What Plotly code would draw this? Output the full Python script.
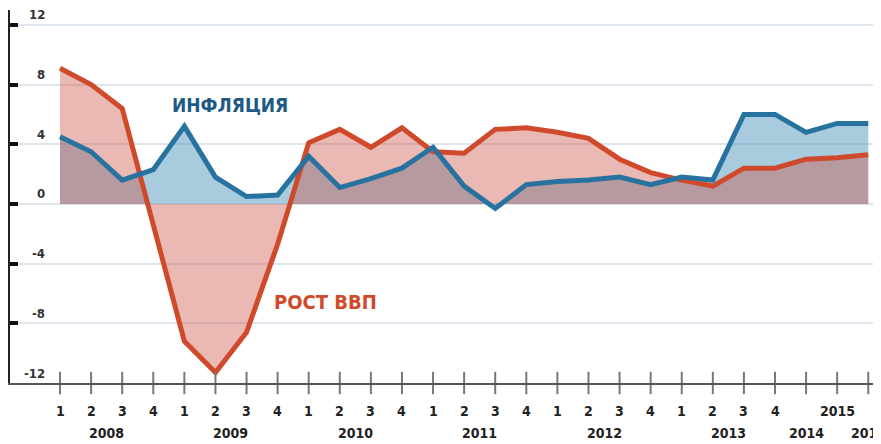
import plotly.graph_objects as go

# ---- data ----
x_idx = list(range(27))
gdp_growth = [9.1, 8.0, 6.4, -1.3, -9.2, -11.3, -8.6, -2.7, 4.1, 5.0, 3.8, 5.1,
              3.5, 3.4, 5.0, 5.1, 4.8, 4.4, 3.0, 2.1, 1.6, 1.2, 2.4, 2.4, 3.0, 3.1, 3.3]
inflation = [4.5, 3.5, 1.6, 2.3, 5.2, 1.8, 0.5, 0.6, 3.2, 1.1, 1.7, 2.4,
             3.8, 1.2, -0.3, 1.3, 1.5, 1.6, 1.8, 1.3, 1.8, 1.6, 6.0, 6.0, 4.8, 5.4, 5.4]
quarter_labels = ["1", "2", "3", "4"] * 6 + ["", "2015", ""]
year_labels = ["2008", "2009", "2010", "2011", "2012", "2013", "2014", "2016"]
year_pos = [1.5, 5.5, 9.5, 13.5, 17.5, 21.5, 24, 26]
y_ticks = [12, 8, 4, 0, -4, -8, -12]

RED = "#cf4a2b"
BLUE = "#27729f"
FONT = "Liberation Sans Narrow, DejaVu Sans Condensed, Arial Narrow, sans-serif"

fig = go.Figure()
# fills first
fig.add_trace(go.Scatter(x=x_idx, y=inflation, mode="lines", fill="tozeroy",
                         line=dict(width=0), fillcolor="rgba(81,151,189,0.5)",
                         hoverinfo="skip", showlegend=False))
fig.add_trace(go.Scatter(x=x_idx, y=gdp_growth, mode="lines", fill="tozeroy",
                         line=dict(width=0), fillcolor="rgba(205,80,67,0.4)",
                         hoverinfo="skip", showlegend=False))
# lines
fig.add_trace(go.Scatter(x=x_idx, y=gdp_growth, mode="lines",
                         line=dict(color=RED, width=5), showlegend=False))
fig.add_trace(go.Scatter(x=x_idx, y=inflation, mode="lines",
                         line=dict(color=BLUE, width=5), showlegend=False))
# x tick marks crossing the axis
fig.add_trace(go.Scatter(x=x_idx, y=[-12] * len(x_idx), mode="markers",
                         marker=dict(symbol="line-ns-open", size=16, color="#777",
                                     line=dict(width=2, color="#777")),
                         cliponaxis=False, hoverinfo="skip", showlegend=False))

ann = []
for v in y_ticks:
    ann.append(dict(x=0.0425, xref="paper", y=v, yref="y", text=f"<b>{v}</b>",
                    showarrow=False, xanchor="right", yanchor="middle", yshift=10,
                    font=dict(family=FONT, size=13, color="#333")))
for i, q in enumerate(quarter_labels):
    if q:
        ann.append(dict(x=i, xref="x", y=0, yref="paper", text=f"<b>{q}</b>",
                        showarrow=False, xanchor="center", yanchor="middle", yshift=-28,
                        font=dict(family=FONT, size=14, color="#222")))
for yr, p in zip(year_labels, year_pos):
    ann.append(dict(x=p, xref="x", y=0, yref="paper", text=f"<b>{yr}</b>",
                    showarrow=False, xanchor="center", yanchor="middle", yshift=-50,
                    font=dict(family=FONT, size=14, color="#222")))
ann.append(dict(x=5.47, y=6.6, xref="x", yref="y", text="<b>ИНФЛЯЦИЯ</b>",
                showarrow=False, font=dict(family=FONT, size=19, color="#1d5a86")))
ann.append(dict(x=8.53, y=-6.6, xref="x", yref="y", text="<b>РОСТ ВВП</b>",
                showarrow=False, font=dict(family=FONT, size=20, color=RED)))

# page body has an 8px margin: size the figure so the plot lands where it should
fig.update_layout(
    width=873, height=436,
    margin=dict(l=2, r=0, t=2, b=61),
    paper_bgcolor="white", plot_bgcolor="white",
    annotations=ann,
    xaxis=dict(range=[-1.609, 26.41], showgrid=False, zeroline=False,
               showticklabels=False, ticks="", showline=True,
               linecolor="#555", linewidth=2),
    yaxis=dict(range=[-12, 13.0], tickvals=y_ticks, showticklabels=False,
               showgrid=True, gridcolor="#dfe5ec", gridwidth=2, zeroline=False,
               ticks="inside", ticklen=8, tickwidth=4, tickcolor="#111",
               showline=True, linecolor="#222", linewidth=2),
)

fig.write_html("out.html")
